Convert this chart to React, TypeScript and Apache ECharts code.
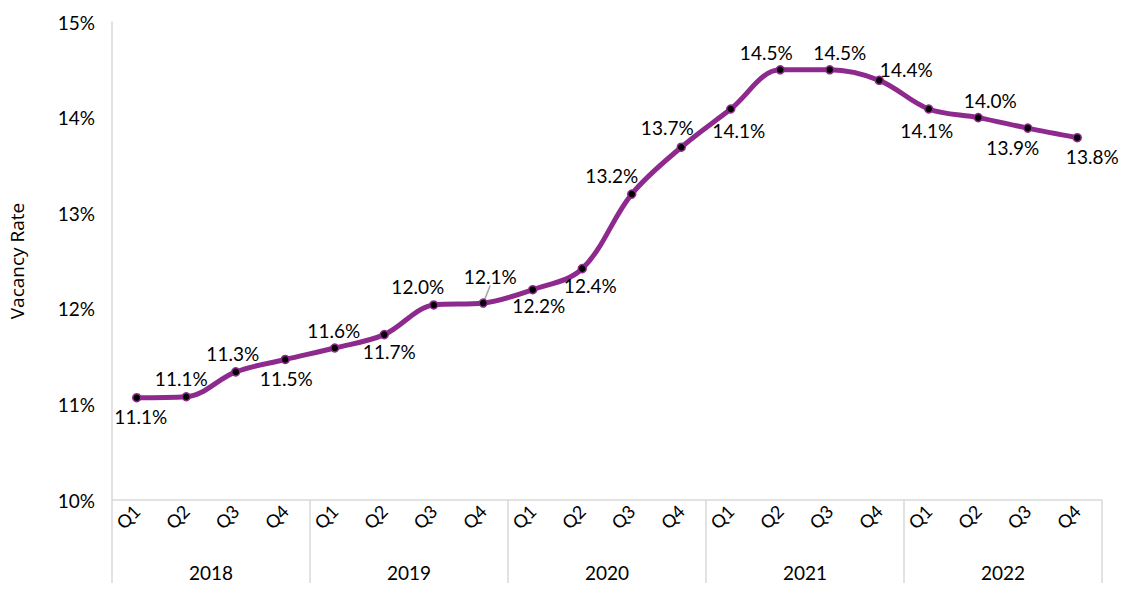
import React, { useEffect, useRef } from "react";
import * as echarts from "echarts";

const years = ["2018", "2019", "2020", "2021", "2022"];
const quarters = ["Q1", "Q2", "Q3", "Q4"];
const vacancyRate = [
  11.07, 11.08, 11.34, 11.47,
  11.59, 11.73, 12.04, 12.06,
  12.2, 12.42, 13.2, 13.69,
  14.09, 14.5, 14.5, 14.39,
  14.09, 14.0, 13.89, 13.79,
];
// label centre offsets relative to each point (style only)
const labelOffsets: [number, number][] = [
  [4, 19], [-5, -18], [-3, -18], [1, 19],
  [-1, -17], [5, 17], [-16, -18], [7, -27],
  [6, 16], [8, 17], [-20, -19], [-14, -20],
  [8, 22], [-14, -17], [10, -17], [27, -11],
  [-2, 22], [12, -17], [-15, 19], [15, 19],
];
const yTicks = { min: 10, max: 15, interval: 1 };

const quarterCats = years.flatMap((y) => quarters.map((q) => `${q}|${y}`));

export default function App() {
  const ref = useRef<HTMLDivElement>(null);
  useEffect(() => {
    if (!ref.current) return;
    const chart = echarts.init(ref.current, null, { renderer: "svg" });
    const grey = "#d9d9d9";
    const font = "Lato";
    const data = vacancyRate.map((v, i) => {
      const item: any = {
        value: v,
        label: { offset: labelOffsets[i] },
      };
      if (i === 7) {
        item.labelLine = { show: true, lineStyle: { color: "#a6a6a6", width: 1.5 } };
      }
      return item;
    });
    chart.setOption({
      animation: false,
      backgroundColor: "#ffffff",
      grid: {
        left: 112,
        right: 23,
        top: 22,
        bottom: 93,
        containLabel: false,
        outerBoundsMode: "none",
      },
      xAxis: [
        {
          type: "category",
          data: quarterCats,
          boundaryGap: true,
          axisLine: { show: true, lineStyle: { color: grey, width: 1.5 } },
          axisTick: { show: false },
          axisLabel: {
            rotate: 45,
            margin: 8,
            fontFamily: font,
            fontSize: 18,
            color: "#000",
            formatter: (v: string) => v.split("|")[0],
          },
        },
        {
          type: "category",
          data: years,
          position: "bottom",
          boundaryGap: true,
          axisLine: { show: false },
          axisTick: { show: true, length: 83, lineStyle: { color: grey, width: 1.5 } },
          axisLabel: {
            margin: 63,
            fontFamily: font,
            fontSize: 19,
            color: "#000",
          },
        },
      ],
      yAxis: {
        type: "value",
        min: yTicks.min,
        max: yTicks.max,
        interval: yTicks.interval,
        name: "Vacancy Rate",
        nameLocation: "middle",
        nameGap: 86,
        nameTextStyle: { fontFamily: "Open Sans", fontSize: 19, color: "#000" },
        axisLine: { show: true, lineStyle: { color: grey, width: 1.5 } },
        axisTick: { show: false },
        splitLine: { show: false },
        axisLabel: {
          formatter: "{value}%",
          margin: 17,
          fontFamily: font,
          fontSize: 19,
          color: "#000",
        },
      },
      series: [
        {
          type: "line",
          xAxisIndex: 0,
          data,
          smooth: 0.35,
          symbol: "circle",
          symbolSize: 8,
          lineStyle: { color: "#8e2a8e", width: 5 },
          itemStyle: { color: "#000", borderColor: "#8e2a8e", borderWidth: 1.5 },
          label: {
            show: true,
            position: "inside",
            align: "center",
            verticalAlign: "middle",
            fontFamily: font,
            fontSize: 19,
            color: "#000",
            formatter: (p: any) => `${p.value.toFixed(1)}%`,
          },
        },
      ],
    });
    return () => chart.dispose();
  }, []);
  return (
    <div
      ref={ref}
      style={{ position: "fixed", left: 0, top: 0, width: 1125, height: 593 }}
    />
  );
}
